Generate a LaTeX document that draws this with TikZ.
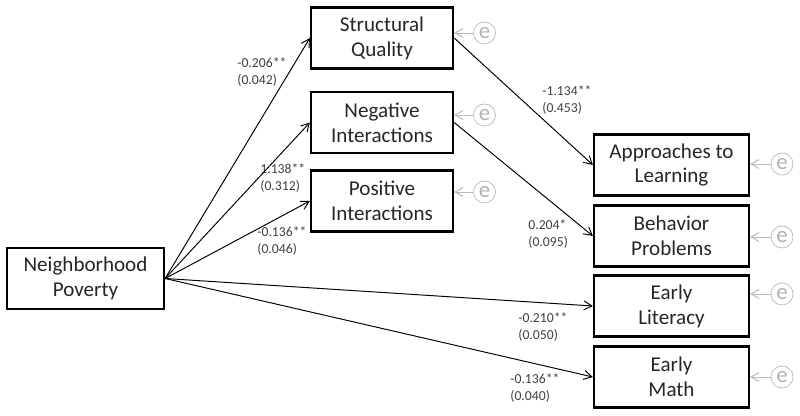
\documentclass[tikz,border=0pt]{standalone}
\usepackage{fontspec}
\setmainfont{Carlito}
\usetikzlibrary{arrows.meta}

\begin{document}
\begin{tikzpicture}[box/.style = {draw = black, line width = 1.3pt, align = center, minimum height = 1.22cm, inner sep = 0pt, text = black!85, font = \fontsize{12}{14.2}\selectfont},
    err/.style = {draw = gray!55, circle, minimum size = .44cm, inner sep = 0pt, text = gray!60, font = \fontsize{13}{13}\selectfont},
    coef/.style = {align = left, anchor = west, inner sep = 0pt, text = black!75, font = \fontsize{7.8}{9.6}\selectfont},
    arr/.style = {-{Straight Barb[length = 1.6mm, width = 1.8mm]}, line width = .55pt},
    earr/.style = {arr, draw = gray!55}]
    \useasboundingbox (0, 0) rectangle (16, 8.32);
    	% boxes
    	\node[box, minimum width = 3.14cm] (NP) at (1.71, 2.75) {Neighborhood\\Poverty};
    	\node[box, minimum width = 2.84cm] (SQ) at (7.64, 7.56) {Structural\\Quality};
    	\node[box, minimum width = 2.84cm] (NI) at (7.64, 5.87) {Negative\\Interactions};
    	\node[box, minimum width = 2.84cm] (PI) at (7.64, 4.30) {Positive\\Interactions};
    	\node[box, minimum width = 3.10cm] (AL) at (13.43, 5.02) {Approaches to\\Learning};
    	\node[box, minimum width = 3.10cm] (BP) at (13.43, 3.60) {Behavior\\Problems};
    	\node[box, minimum width = 3.10cm] (EL) at (13.43, 2.20) {Early\\Literacy};
    	\node[box, minimum width = 3.10cm] (EM) at (13.43, 0.78) {Early\\Math};
	% error terms
    	\node[err] (eSQ) at (9.69, 7.66) {e};
    	\node[err] (eNI) at (9.69, 6.02) {e};
    	\node[err] (ePI) at (9.69, 4.48) {e};
    	\node[err] (eAL) at (15.64, 5.04) {e};
    	\node[err] (eBP) at (15.64, 3.58) {e};
    	\node[err] (eEL) at (15.64, 2.44) {e};
    	\node[err] (eEM) at (15.64, 0.78) {e};
	% coefficients
    	\node[coef] (cSQ) at (4.74, 6.88) {-0.206**\\(0.042)};
    	\node[coef] (cNI) at (5.20, 4.76) {1.138**\\(0.312)};
    	\node[coef] (cPI) at (5.14, 3.50) {-0.136**\\(0.046)};
    	\node[coef] (cAL) at (10.84, 6.32) {-1.134**\\(0.453)};
    	\node[coef] (cBP) at (10.56, 3.64) {0.204*\\(0.095)};
    	\node[coef] (cEL) at (10.36, 1.78) {-0.210**\\(0.050)};
    	\node[coef] (cEM) at (10.20, 0.56) {-0.136**\\(0.040)};
	% paths
    	\draw[arr] (NP.east) -- (SQ.west);
    	\draw[arr] (NP.east) -- (NI.west);
    	\draw[arr] (NP.east) -- (PI.west);
    	\draw[arr] (NP.east) -- (EL.west);
    	\draw[arr] (NP.east) -- (EM.west);
    	\draw[arr] (SQ.east) -- (AL.west);
    	\draw[arr] (NI.east) -- (BP.west);
    	\foreach \n in {SQ, NI, PI, AL, BP, EL, EM}
    	    \draw[earr] (e\n.west) -- (e\n.west -| \n.east);
\end{tikzpicture}
\end{document}
